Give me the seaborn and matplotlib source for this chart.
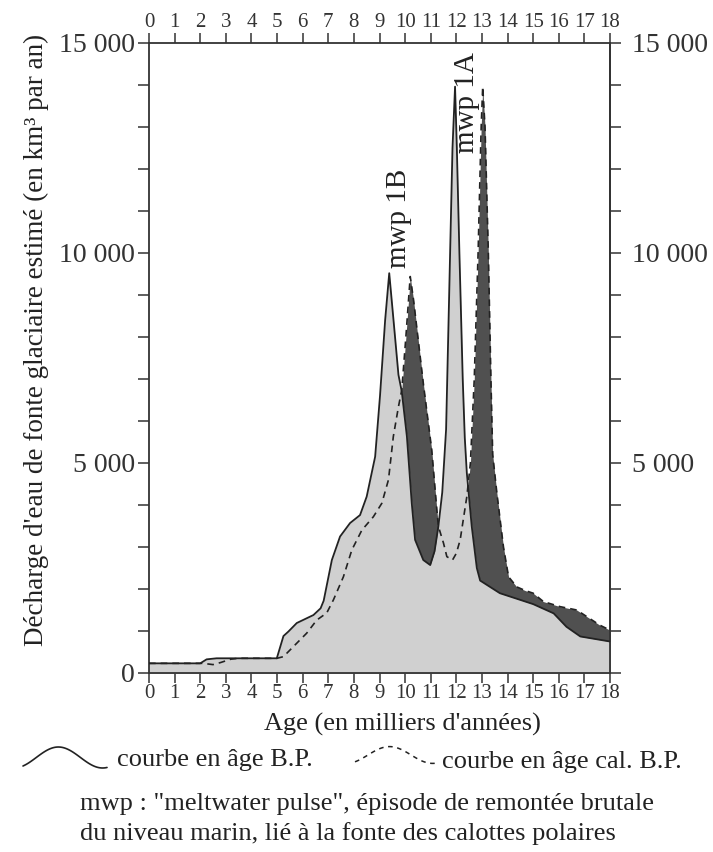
"""Meltwater discharge curves (B.P. vs cal. B.P.) with mwp 1A / 1B pulses."""

import matplotlib.pyplot as plt
import numpy as np
import seaborn as sns
from matplotlib.ticker import FuncFormatter, MultipleLocator

# Curve in age B.P. (solid line, light fill)
bp_age = [0, 2.0, 2.25, 2.64, 4.99, 5.25, 5.44, 5.77, 6.42, 6.7, 6.82, 7.14,
          7.46, 7.85, 8.24, 8.5, 8.83, 9.02, 9.22, 9.38, 9.54, 9.74, 9.87,
          10.07, 10.26, 10.39, 10.71, 10.98, 11.15, 11.3, 11.45, 11.6, 11.72,
          11.85, 11.95, 12.02, 12.12, 12.25, 12.33, 12.41, 12.6, 12.8, 12.93,
          13.7, 14.3, 15.0, 15.8, 16.3, 16.84, 18.0]
bp_flux = [230, 230, 325, 350, 350, 880, 985, 1190, 1380, 1540, 1720, 2690,
           3250, 3570, 3760, 4200, 5150, 6600, 8400, 9520, 8450, 7100, 6700,
           5630, 4040, 3170, 2690, 2570, 2900, 3500, 4300, 5800, 9000,
           12500, 13960, 12500, 10000, 7000, 5600, 4760, 3500, 2500, 2200,
           1900, 1780, 1640, 1420, 1100, 870, 750]

# Curve in age cal. B.P. (dashed line, dark fill where it rises above)
cal_age = [0, 2.1, 2.5, 2.8, 3.2, 3.5, 5.0, 5.25, 5.77, 6.16, 6.55, 6.94, 7.2,
           7.59, 7.92, 8.31, 8.76, 9.09, 9.35, 9.54, 9.74, 9.87, 10.03, 10.2,
           10.33, 10.71, 11.04, 11.24, 11.3, 11.5, 11.63, 11.85, 12.0, 12.15,
           12.41, 12.55, 12.7, 12.85, 12.97, 13.03, 13.12, 13.25, 13.35, 13.42,
           13.58, 13.84, 14.04, 14.36, 14.7, 15.0, 15.4, 16.05, 16.7, 17.2,
           17.6, 18.0]
cal_flux = [230, 230, 200, 250, 330, 350, 350, 390, 710, 950, 1260, 1430, 1740,
            2290, 2930, 3400, 3720, 4040, 4600, 5630, 6340, 6740, 8000, 9440,
            8880, 6900, 5310, 3880, 3490, 3090, 2770, 2690, 2850, 3170,
            4200, 5000, 7000, 10000, 13000, 13960, 13000, 10000, 7000, 5200,
            4300, 3000, 2290, 2050, 1960, 1900, 1700, 1580, 1500, 1300,
            1140, 1020]

x_ticks = list(range(19))

sns.set_style("ticks")
plt.rcParams["font.family"] = ["Liberation Serif", "DejaVu Serif"]

W, H = 713, 852
fig = plt.figure(figsize=(W / 100, H / 100), dpi=100)
ax = fig.add_axes([149 / W, 1 - 673 / H, (610 - 149) / W, (673 - 43) / H])

light = "#d0d0d0"
dark = "#505050"

# dark fill first, light fill on top: dark only shows where cal > B.P.
ax.fill_between(cal_age, 0, cal_flux, color=dark, lw=0, zorder=1)
ax.fill_between(bp_age, 0, bp_flux, color=light, lw=0, zorder=2)

sns.lineplot(x=cal_age, y=cal_flux, ax=ax, color="#222222", lw=1.2,
             sort=False, estimator=None, zorder=3)
ax.lines[-1].set_linestyle((0, (4, 3)))
sns.lineplot(x=bp_age, y=bp_flux, ax=ax, color="#222222", lw=1.3,
             sort=False, estimator=None, zorder=4)

ax.text(9.77, 9640, "mwp 1B", rotation=90, ha="center", va="bottom",
        fontsize=21, color="#222222", zorder=5)
ax.text(12.42, 12380, "mwp 1A", rotation=90, ha="center", va="bottom",
        fontsize=21, color="#222222", zorder=5)

ax.set_xlim(0, 18)
ax.set_ylim(0, 15000)
ax.set_xticks(x_ticks)
ax.yaxis.set_major_locator(MultipleLocator(1000))


def fmt_left(v, pos):
    if v % 5000:
        return ""
    return f"{int(v):,}".replace(",", " ")


def fmt_right(v, pos):
    if v == 0:
        return ""
    return fmt_left(v, pos)


ax.yaxis.set_major_formatter(FuncFormatter(fmt_left))
ax.tick_params(axis="x", which="both", top=True, labeltop=True, bottom=True,
               labelbottom=True, direction="out", length=7, width=1.1,
               labelsize=15, pad=1, colors="#333333")
ax.tick_params(axis="y", direction="out", length=8, width=1.1,
               labelsize=20, pad=2, colors="#333333")

sec = ax.secondary_yaxis("right")
sec.yaxis.set_major_locator(MultipleLocator(1000))
sec.yaxis.set_major_formatter(FuncFormatter(fmt_right))
sec.tick_params(axis="y", direction="out", length=8, width=1.1,
                labelsize=20, pad=8, colors="#333333")
sec.spines["right"].set_color("#333333")
sec.spines["right"].set_linewidth(1.3)

for side in ["left", "right", "top", "bottom"]:
    ax.spines[side].set_visible(True)
    ax.spines[side].set_color("#333333")
    ax.spines[side].set_linewidth(1.3)
ax.set_xlabel("")
ax.set_ylabel("")

# overlay in pixel coordinates for labels and the hand-drawn legend
ov = fig.add_axes([0, 0, 1, 1], zorder=-1)
ov.set_xlim(0, W)
ov.set_ylim(H, 0)
ov.axis("off")

txt = dict(fontsize=19, color="#222222")
ov.text(402, 724, "Age (en milliers d'années)", ha="center", va="center", **txt)
ov.text(36, 340, "Décharge d'eau de fonte glaciaire estimé (en km³ par an)",
        rotation=90, ha="center", va="center", fontsize=19.5, color="#222222")

t = np.linspace(-0.3 * np.pi, 1.6 * np.pi, 60)
wave = -np.sin(t) * 10.5
ov.plot(23 + (t - t[0]) / (t[-1] - t[0]) * 84, 757.5 + wave,
        color="#222222", lw=1.2)
ov.plot(355 + (t - t[0]) / (t[-1] - t[0]) * 82, 755 + wave * 0.8,
        color="#222222", lw=1.1, ls=(0, (3, 3)))
ov.text(117, 760, "courbe en âge B.P.", ha="left", va="center", **txt)
ov.text(442, 762, "courbe en âge cal. B.P.", ha="left", va="center", **txt)
ov.text(80, 804, "mwp : \"meltwater pulse\", épisode de remontée brutale",
        ha="left", va="center", **txt)
ov.text(80, 834, "du niveau marin, lié à la fonte des calottes polaires",
        ha="left", va="center", **txt)

fig.savefig("out.png", dpi=100, facecolor="white")
